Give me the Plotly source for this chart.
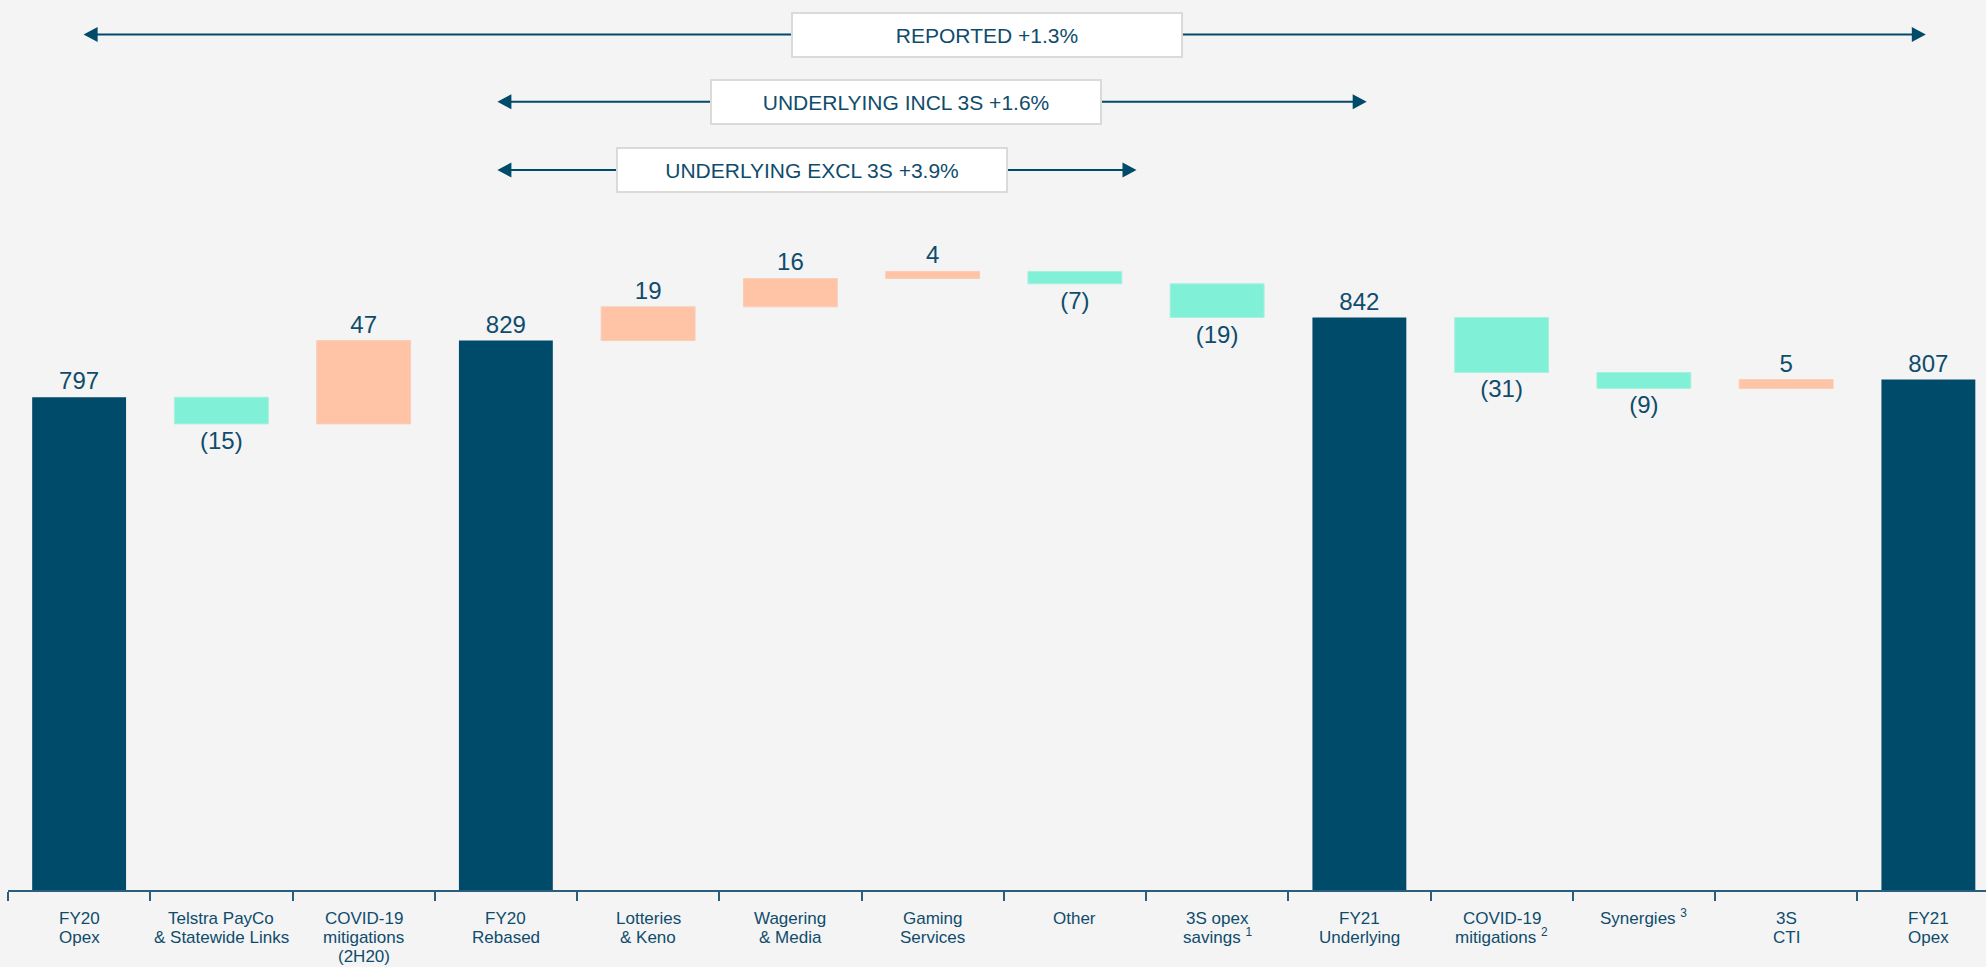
import plotly.graph_objects as go

# ---------------- data ----------------
categories = [
    "FY20<br>Opex",
    "Telstra PayCo<br>& Statewide Links",
    "COVID-19<br>mitigations<br>(2H20)",
    "FY20<br>Rebased",
    "Lotteries<br>& Keno",
    "Wagering<br>& Media",
    "Gaming<br>Services",
    "Other",
    "3S opex<br>savings <sup>1</sup>",
    "FY21<br>Underlying",
    "COVID-19<br>mitigations <sup>2</sup>",
    "Synergies <sup>3</sup>",
    "3S<br>CTI",
    "FY21<br>Opex",
]
measures = ["absolute", "relative", "relative", "total", "relative", "relative", "relative",
            "relative", "relative", "total", "relative", "relative", "relative", "total"]
values = [797, -15, 47, None, 19, 16, 4, -7, -19, None, -31, -9, 5, None]
value_labels = ["797", "(15)", "47", "829", "19", "16", "4", "(7)", "(19)", "842",
                "(31)", "(9)", "5", "807"]

bracket_texts = ["REPORTED +1.3%", "UNDERLYING INCL 3S +1.6%", "UNDERLYING EXCL 3S +3.9%"]

# ---------------- styles ----------------
NAVY = "#004A6A"
TEXT = "#0F4C6C"
PEACH = "#FFC3A6"
TEAL = "#80F0D6"
BG = "#F4F4F4"
FONT = "Liberation Sans, Arial, sans-serif"

W, H = 1986, 967
ML, MR, MT, MB = 8, 0, 0, 77
PLOT_W = W - ML - MR
PLOT_H = H - MT - MB
CAT_W = 142.25
X_RANGE = [-0.5, -0.5 + PLOT_W / CAT_W]
Y_MIN = 519.1
PX_PER_UNIT = 1.773
Y_RANGE = [Y_MIN, Y_MIN + PLOT_H / PX_PER_UNIT]

LABEL_FIRST_BOTTOM_Y = 928.0   # pixel bottom of first category-label line box
LABEL_LINE_STEP = 19.0         # tight line spacing of the category labels


def px2x(px):
    return (px - ML) / CAT_W - 0.5


def py2paper(py):
    return 1 - (py - MT) / PLOT_H


# bracket geometry (pixel positions in the layout)
bracket_rows = [
    # left tip, right tip, line y, box center x, box center y
    (83.6, 1925.8, 34.5, 986.6, 35.0),
    (497.4, 1366.7, 101.8, 906.3, 102.0),
    (497.4, 1136.5, 170.0, 812.4, 170.3),
]

fig = go.Figure()
fig.add_trace(go.Waterfall(
    x=categories,
    y=values,
    measure=measures,
    text=value_labels,
    textposition="outside",
    textfont=dict(family=FONT, size=24, color=TEXT),
    increasing=dict(marker=dict(color=PEACH, line=dict(color="#F9CDB8", width=1))),
    decreasing=dict(marker=dict(color=TEAL, line=dict(color="#A8F0DF", width=1))),
    totals=dict(marker=dict(color=NAVY, line=dict(color=NAVY, width=0))),
    connector=dict(visible=False),
    hoverinfo="skip",
))

shapes = []
annotations = []
for (lx, rx, ly, bx, by), txt in zip(bracket_rows, bracket_texts):
    yp = py2paper(ly)
    shapes.append(dict(type="line", xref="x", yref="paper",
                       x0=px2x(lx + 6), x1=px2x(rx - 6), y0=yp, y1=yp,
                       line=dict(color=NAVY, width=2), layer="above"))
    shapes.append(dict(type="path", xref="x", yref="paper",
                       xsizemode="pixel", ysizemode="pixel",
                       xanchor=px2x(lx), yanchor=yp,
                       path="M0,0 L14,7.5 L14,-7.5 Z",
                       fillcolor=NAVY, line=dict(width=0), layer="above"))
    shapes.append(dict(type="path", xref="x", yref="paper",
                       xsizemode="pixel", ysizemode="pixel",
                       xanchor=px2x(rx), yanchor=yp,
                       path="M0,0 L-14,7.5 L-14,-7.5 Z",
                       fillcolor=NAVY, line=dict(width=0), layer="above"))
    annotations.append(dict(x=px2x(bx), y=py2paper(by), xref="x", yref="paper",
                            text=txt, showarrow=False,
                            font=dict(family=FONT, size=21, color=TEXT),
                            bgcolor="white", bordercolor="#DADAD8", borderwidth=2,
                            borderpad=1, width=386, height=40,
                            xanchor="center", yanchor="middle"))

# category labels: one annotation per line for the tight line spacing of the original
for i, cat in enumerate(categories):
    for j, line in enumerate(cat.split("<br>")):
        annotations.append(dict(
            x=i, y=py2paper(LABEL_FIRST_BOTTOM_Y + j * LABEL_LINE_STEP),
            xref="x", yref="paper", text=line, showarrow=False,
            font=dict(family=FONT, size=17, color=TEXT),
            xanchor="center", yanchor="bottom", borderpad=0, borderwidth=0,
        ))

fig.update_layout(
    width=W, height=H,
    margin=dict(l=ML, r=MR, t=MT, b=MB),
    paper_bgcolor=BG, plot_bgcolor=BG,
    showlegend=False,
    waterfallgap=0.34,
    shapes=shapes,
    annotations=annotations,
    font=dict(family=FONT, color=TEXT),
    xaxis=dict(
        type="category",
        range=X_RANGE,
        automargin=False,
        showticklabels=False,
        tickson="boundaries",
        ticks="outside", ticklen=9, tickwidth=1.5, tickcolor="#2A5E7C",
        showline=True, linecolor="#2A5E7C", linewidth=1.5,
        showgrid=False, zeroline=False,
        fixedrange=True,
    ),
    yaxis=dict(visible=False, range=Y_RANGE, showgrid=False, zeroline=False,
               fixedrange=True, automargin=False),
)

fig.write_html(
    "out.html",
    config={"displayModeBar": False},
    post_script="document.body.style.margin='0px';document.body.style.overflow='hidden';",
)
